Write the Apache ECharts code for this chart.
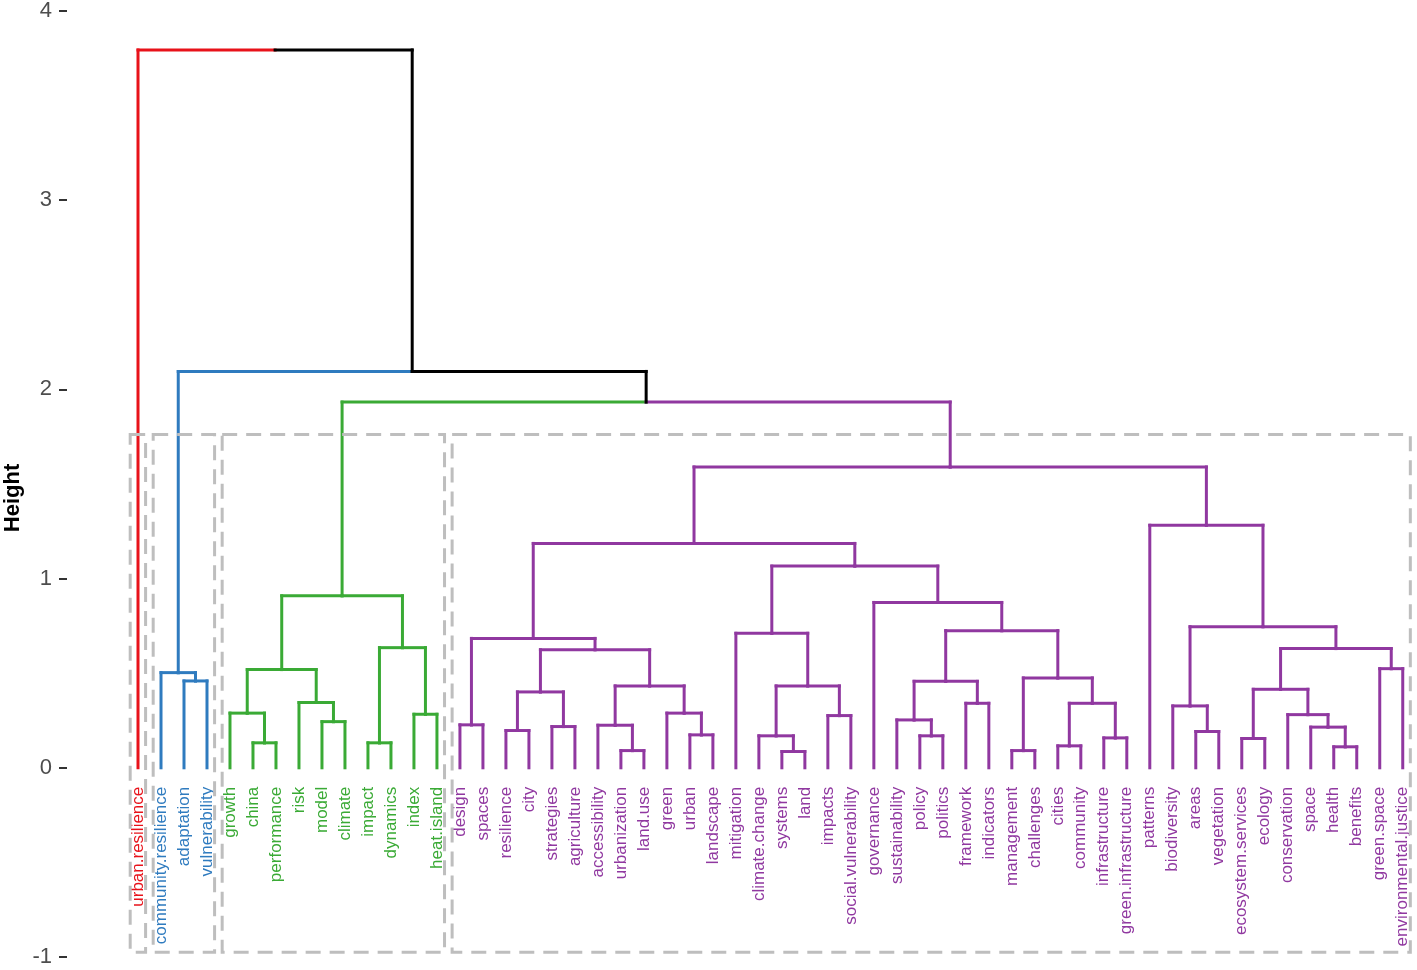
<!DOCTYPE html>
<html>
<head>
<meta charset="utf-8">
<script src="https://cdn.jsdelivr.net/npm/echarts@6/dist/echarts.min.js"></script>
<style>
html,body{margin:0;padding:0;background:#ffffff;}
#chart{width:1417px;height:970px;}
</style>
</head>
<body>
<div id="chart"></div>
<script>
// ---------------- data ----------------
const leafLabels = [
  'urban.resilience',
  'community.resilience','adaptation','vulnerability',
  'growth','china','performance','risk','model','climate','impact','dynamics','index','heat.island',
  'design','spaces','resilience','city','strategies','agriculture','accessibility','urbanization','land.use',
  'green','urban','landscape','mitigation','climate.change','systems','land','impacts','social.vulnerability',
  'governance','sustainability','policy','politics','framework','indicators','management','challenges',
  'cities','community','infrastructure','green.infrastructure','patterns','biodiversity','areas','vegetation',
  'ecosystem.services','ecology','conservation','space','health','benefits','green.space','environmental.justice'
];

// number of leaves (in display order) belonging to each of the k = 4 clusters
const clusterSizes = [1, 3, 10, 42];
const clusterColors = ['#E8121A', '#2F7BBF', '#3AAA35', '#9038A0'];
const mixedColor = '#000000';

// hclust-style merges: negative = leaf (1-based display position), positive = earlier merge; third value = height
const merges = [
  [-29, -30, 0.086],  // 1  systems + land
  [-22, -23, 0.091],  // 2  urbanization + land.use
  [-39, -40, 0.091],  // 3  management + challenges
  [-53, -54, 0.111],  // 4  health + benefits
  [-41, -42, 0.116],  // 5  cities + community
  [-6, -7, 0.132],    // 6  china + performance
  [-11, -12, 0.132],  // 7  impact + dynamics
  [-49, -50, 0.155],  // 8  ecosystem.services + ecology
  [-43, -44, 0.158],  // 9  infrastructure + green.infrastructure
  [-28, 1, 0.169],    // 10
  [-35, -36, 0.169],  // 11 policy + politics
  [-25, -26, 0.174],  // 12 urban + landscape
  [-47, -48, 0.192],  // 13 areas + vegetation
  [-17, -18, 0.197],  // 14 resilience + city
  [-52, 4, 0.215],    // 15
  [-19, -20, 0.218],  // 16 strategies + agriculture
  [-21, 2, 0.225],    // 17
  [-15, -16, 0.227],  // 18 design + spaces
  [-9, -10, 0.244],   // 19 model + climate
  [-34, 11, 0.253],   // 20
  [-31, -32, 0.276],  // 21 impacts + social.vulnerability
  [-51, 15, 0.281],   // 22
  [-13, -14, 0.283],  // 23 index + heat.island
  [-5, 6, 0.289],     // 24
  [-24, 12, 0.289],   // 25
  [-46, 13, 0.327],   // 26
  [-37, -38, 0.341],  // 27 framework + indicators
  [5, 9, 0.341],      // 28
  [-8, 19, 0.345],    // 29
  [14, 16, 0.401],    // 30
  [8, 22, 0.415],     // 31
  [17, 25, 0.433],    // 32
  [10, 21, 0.433],    // 33
  [20, 27, 0.457],    // 34
  [-3, -4, 0.459],    // 35 adaptation + vulnerability
  [3, 28, 0.475],     // 36
  [-2, 35, 0.503],    // 37
  [24, 29, 0.519],    // 38
  [-55, -56, 0.524],  // 39 green.space + environmental.justice
  [30, 32, 0.624],    // 40
  [31, 39, 0.630],    // 41
  [7, 23, 0.635],     // 42
  [18, 40, 0.684],    // 43
  [-27, 33, 0.711],   // 44
  [34, 36, 0.725],    // 45
  [26, 41, 0.746],    // 46
  [-33, 45, 0.874],   // 47
  [38, 42, 0.909],    // 48
  [44, 47, 1.066],    // 49
  [43, 49, 1.186],    // 50
  [-45, 46, 1.282],   // 51
  [50, 51, 1.590],    // 52
  [48, 52, 1.933],    // 53
  [37, 53, 2.095],    // 54
  [-1, 54, 3.794]     // 55
];

const yTickValues = [-1, 0, 1, 2, 3, 4];
const yAxisTitle = 'Height';

// ---------------- derived structure ----------------
const leafCluster = [];
clusterSizes.forEach((s, c) => { for (let i = 0; i < s; i++) leafCluster.push(c); });

const nodes = [];
function nodeInfo(id) {
  if (id < 0) return { x: -id, h: 0, col: leafCluster[-id - 1] };
  return nodes[id - 1];
}
const segments = []; // [x1, y1, x2, y2, colorIndex]
merges.forEach(([a, b, h]) => {
  const A = nodeInfo(a), B = nodeInfo(b);
  const xm = (A.x + B.x) / 2;
  segments.push([A.x, A.h, A.x, h, A.col]);
  segments.push([B.x, B.h, B.x, h, B.col]);
  segments.push([A.x, h, xm, h, A.col]);
  segments.push([xm, h, B.x, h, B.col]);
  nodes.push({ x: xm, h: h, col: A.col === B.col ? A.col : -1 });
});

// cluster rectangles (rect.hclust style)
const k = clusterSizes.length;
const sortedH = merges.map(m => m[2]).sort((p, q) => q - p);
const rectTop = (sortedH[k - 2] + sortedH[k - 1]) / 2;
const rectBottom = -0.975;
const rects = [];
let start = 1;
clusterSizes.forEach((s, c) => {
  rects.push([start - 0.34, rectBottom, start + s - 1 + 0.33, rectTop, c]);
  start += s;
});

const labelData = leafLabels.map((l, i) => [i + 1, -0.1, leafCluster[i]]);

function colorOf(c) { return c < 0 ? mixedColor : clusterColors[c]; }

// ---------------- chart ----------------
const chart = echarts.init(document.getElementById('chart'), null, { renderer: 'canvas' });
chart.setOption({
  animation: false,
  backgroundColor: '#ffffff',
  grid: { left: 67, right: 0, top: 10, bottom: 13, containLabel: false },
  xAxis: { type: 'value', min: -2.088, max: 56.62, show: false },
  yAxis: {
    type: 'value', min: yTickValues[0], max: yTickValues[yTickValues.length - 1], interval: 1,
    axisLine: { show: false, onZero: false },
    axisTick: { show: true, length: 8, lineStyle: { color: '#333333', width: 2 } },
    axisLabel: { margin: 15, fontSize: 22, color: '#4D4D4D', fontFamily: 'Liberation Sans, Arial, sans-serif' },
    splitLine: { show: false }
  },
  graphic: [{
    type: 'text', x: 13, y: 498, rotation: Math.PI / 2,
    style: { text: yAxisTitle, fill: '#000000', font: 'bold 22px "Liberation Sans", Arial, sans-serif', align: 'center', verticalAlign: 'middle' }
  }],
  series: [
    {
      type: 'custom', z: 2, clip: false,
      data: segments,
      encode: { x: [0, 2], y: [1, 3] },
      renderItem: function (params, api) {
        const p1 = api.coord([api.value(0), api.value(1)]);
        const p2 = api.coord([api.value(2), api.value(3)]);
        return {
          type: 'line',
          shape: { x1: p1[0], y1: p1[1], x2: p2[0], y2: p2[1] },
          style: { stroke: colorOf(api.value(4)), lineWidth: 3, lineCap: 'square' }
        };
      }
    },
    {
      type: 'custom', z: 3, clip: false,
      data: labelData,
      encode: { x: 0, y: 1 },
      renderItem: function (params, api) {
        const p = api.coord([api.value(0), api.value(1)]);
        return {
          type: 'text', x: p[0], y: p[1], rotation: Math.PI / 2,
          style: {
            text: leafLabels[params.dataIndex], fill: colorOf(api.value(2)),
            font: '17px "Liberation Sans", Arial, sans-serif', align: 'right', verticalAlign: 'middle'
          }
        };
      }
    },
    {
      type: 'custom', z: 4, clip: false,
      data: rects,
      encode: { x: [0, 2], y: [1, 3] },
      renderItem: function (params, api) {
        const p1 = api.coord([api.value(0), api.value(3)]);
        const p2 = api.coord([api.value(2), api.value(1)]);
        return {
          type: 'rect',
          shape: { x: p1[0], y: p1[1], width: p2[0] - p1[0], height: p2[1] - p1[1] },
          style: { fill: 'none', stroke: '#BEBEBE', lineWidth: 3, lineDash: [15, 9] }
        };
      }
    }
  ]
});
</script>
</body>
</html>
